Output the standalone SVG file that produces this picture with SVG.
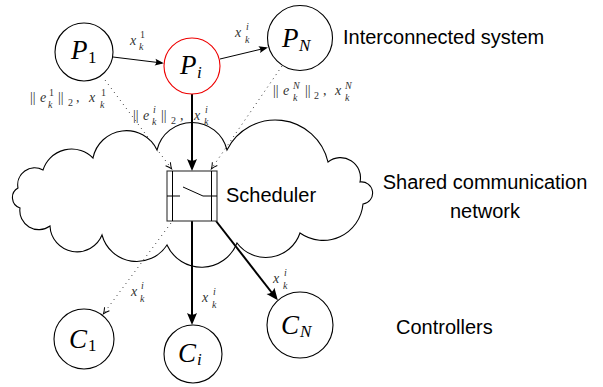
<svg xmlns="http://www.w3.org/2000/svg" width="603" height="387" viewBox="0 0 603 387">
<style>
.nd{fill:none;stroke:#000;stroke-width:1.1}
.red{fill:none;stroke:#e00;stroke-width:1.1}
.big{font-family:"Liberation Serif",serif;font-style:italic;font-size:27px;fill:#000}
.bs{font-family:"Liberation Serif",serif;font-size:17px;fill:#000}
.bsi{font-family:"Liberation Serif",serif;font-style:italic;font-size:17px;fill:#000}
.lb{font-family:"Liberation Serif",serif;font-style:italic;font-size:14px;fill:#333}
.lu{font-family:"Liberation Serif",serif;font-size:14px;fill:#333}
.sc{font-family:"Liberation Serif",serif;font-style:italic;font-size:10px;fill:#333}
.scu{font-family:"Liberation Serif",serif;font-size:10px;fill:#333}
.tx{font-family:"Liberation Sans",Arial,sans-serif;font-size:20px;fill:#000}
.thin{fill:none;stroke:#000;stroke-width:1}
.thick{fill:none;stroke:#000;stroke-width:2}
.dot{fill:none;stroke:#333;stroke-width:1;stroke-dasharray:1 4}
.box{fill:#fff;stroke:#333;stroke-width:1.1}
</style>
<defs>
<marker id="ah" markerUnits="userSpaceOnUse" markerWidth="14" markerHeight="14" viewBox="-10 -7 14 14" refX="0" refY="0" orient="auto" overflow="visible">
<path d="M2,0 L-7,-3.5 Q-4.5,0 -7,3.5 Z" fill="#000"/>
</marker>
<marker id="ahb" markerUnits="userSpaceOnUse" markerWidth="16" markerHeight="16" viewBox="-12 -8 16 16" refX="0" refY="0" orient="auto" overflow="visible">
<path d="M3,0 L-9,-5 Q-5.5,0 -9,5 Z" fill="#000"/>
</marker>
<marker id="ahd" markerUnits="userSpaceOnUse" markerWidth="12" markerHeight="12" viewBox="-8 -6 12 12" refX="0" refY="0" orient="auto" overflow="visible">
<path d="M-5,-3 Q-1.5,-0.8 1,0 Q-1.5,0.8 -5,3" fill="none" stroke="#000" stroke-width="1"/>
</marker>
</defs>
<rect width="603" height="387" fill="#fff"/>

<g id="network">
<path d="M43,170 A30,30 0 0 1 93,158 A34,34 0 0 1 157,150 A36,36 0 0 1 227,150 A54,54 0 0 1 328,162 A20,20 0 0 1 360,182 A11,11 0 0 1 363,204 A40,40 0 0 1 300,233 A36,36 0 0 1 237,243 A38,38 0 0 1 167,245 A36,36 0 0 1 102,235 A27,27 0 0 1 50,226 A19,19 0 0 1 20,208 A11,11 0 0 1 18,188 A17,17 0 0 1 43,170 Z" fill="#fff" stroke="#000" stroke-width="1.1"/>
</g>

<g id="connectors">
<line class="thin" x1="113" y1="57" x2="162" y2="63" marker-end="url(#ah)"/>
<line class="thin" x1="220" y1="59" x2="266" y2="48" marker-end="url(#ah)"/>
<line class="thick" x1="192" y1="94" x2="192" y2="168" marker-end="url(#ahb)"/>
<line class="dot" x1="105" y1="80" x2="171" y2="168" marker-end="url(#ahd)"/>
<line class="dot" x1="282" y1="66" x2="212" y2="168" marker-end="url(#ahd)"/>
<line class="thick" x1="192" y1="221" x2="192" y2="322" marker-end="url(#ahb)"/>
<line class="thick" x1="216" y1="221" x2="276" y2="298" marker-end="url(#ahb)"/>
<line class="dot" x1="171" y1="223" x2="104" y2="313" marker-end="url(#ahd)"/>

<text class="lb" x="130" y="45">x</text><text class="scu" x="140" y="38">1</text><text class="sc" x="139" y="50">k</text>
<text class="lb" x="235" y="37">x</text><text class="sc" x="246" y="30">i</text><text class="sc" x="245" y="43">k</text>

<text class="lu" x="30" y="102">||</text><text class="lb" x="40" y="102">e</text><text class="scu" x="49" y="96">1</text><text class="sc" x="48" y="108">k</text><text class="lu" x="58" y="102">||</text><text class="scu" x="68" y="106">2</text><text class="lu" x="76" y="102">,</text><text class="lb" x="89" y="102">x</text><text class="scu" x="101" y="96">1</text><text class="sc" x="100" y="108">k</text>

<text class="lu" x="133" y="120">||</text><text class="lb" x="143" y="120">e</text><text class="sc" x="153" y="113">i</text><text class="sc" x="152" y="125">k</text><text class="lu" x="161" y="120">||</text><text class="scu" x="171" y="124">2</text><text class="lu" x="180" y="120">,</text><text class="lb" x="194" y="120">x</text><text class="sc" x="205" y="113">i</text><text class="sc" x="204" y="125">k</text>

<text class="lu" x="273" y="95">||</text><text class="lb" x="283" y="95">e</text><text class="sc" x="293" y="89">N</text><text class="sc" x="293" y="101">k</text><text class="lu" x="305" y="95">||</text><text class="scu" x="314" y="99">2</text><text class="lu" x="323" y="95">,</text><text class="lb" x="335" y="95">x</text><text class="sc" x="345" y="89">N</text><text class="sc" x="345" y="101">k</text>

<text class="lb" x="131" y="296">x</text><text class="sc" x="141" y="289">i</text><text class="sc" x="140" y="302">k</text>
<text class="lb" x="202" y="302">x</text><text class="sc" x="213" y="295">i</text><text class="sc" x="212" y="308">k</text>
<text class="lb" x="273" y="283">x</text><text class="sc" x="284" y="276">i</text><text class="sc" x="283" y="289">k</text>
</g>

<g id="P1"><circle class="nd" cx="84" cy="52" r="29"/><text class="big" x="71" y="59">P</text><text class="bs" x="88" y="63">1</text></g>
<g id="Pi"><circle class="red" cx="192" cy="66" r="28"/><text class="big" x="180" y="74">P</text><text class="bsi" x="197" y="78">i</text></g>
<g id="PN"><circle class="nd" cx="300" cy="38" r="32.5"/><text class="big" x="282" y="47">P</text><text class="bsi" x="299" y="51">N</text></g>
<g id="C1"><circle class="nd" cx="84" cy="339" r="30"/><text class="big" x="69" y="348">C</text><text class="bs" x="88" y="351">1</text></g>
<g id="Ci"><circle class="nd" cx="193" cy="354" r="29"/><text class="big" x="178" y="362">C</text><text class="bsi" x="197" y="365">i</text></g>
<g id="CN"><circle class="nd" cx="300" cy="325" r="33"/><text class="big" x="281" y="334">C</text><text class="bsi" x="300" y="337">N</text></g>

<g id="scheduler">
<rect class="box" x="167" y="171" width="50" height="50"/>
<line class="thin" x1="172.5" y1="171" x2="172.5" y2="221" stroke="#333"/>
<line class="thin" x1="211.5" y1="171" x2="211.5" y2="221" stroke="#333"/>
<polyline points="167,196 180,196" class="thin"/>
<polyline points="183,187 203,196 217,196" class="thin"/>
<text class="tx" x="226" y="202">Scheduler</text>
</g>

<g id="labels">
<text class="tx" x="343" y="44">Interconnected system</text>
<text class="tx" x="485" y="189" text-anchor="middle">Shared communication</text>
<text class="tx" x="485" y="218" text-anchor="middle">network</text>
<text class="tx" x="396" y="334">Controllers</text>
</g>
</svg>
